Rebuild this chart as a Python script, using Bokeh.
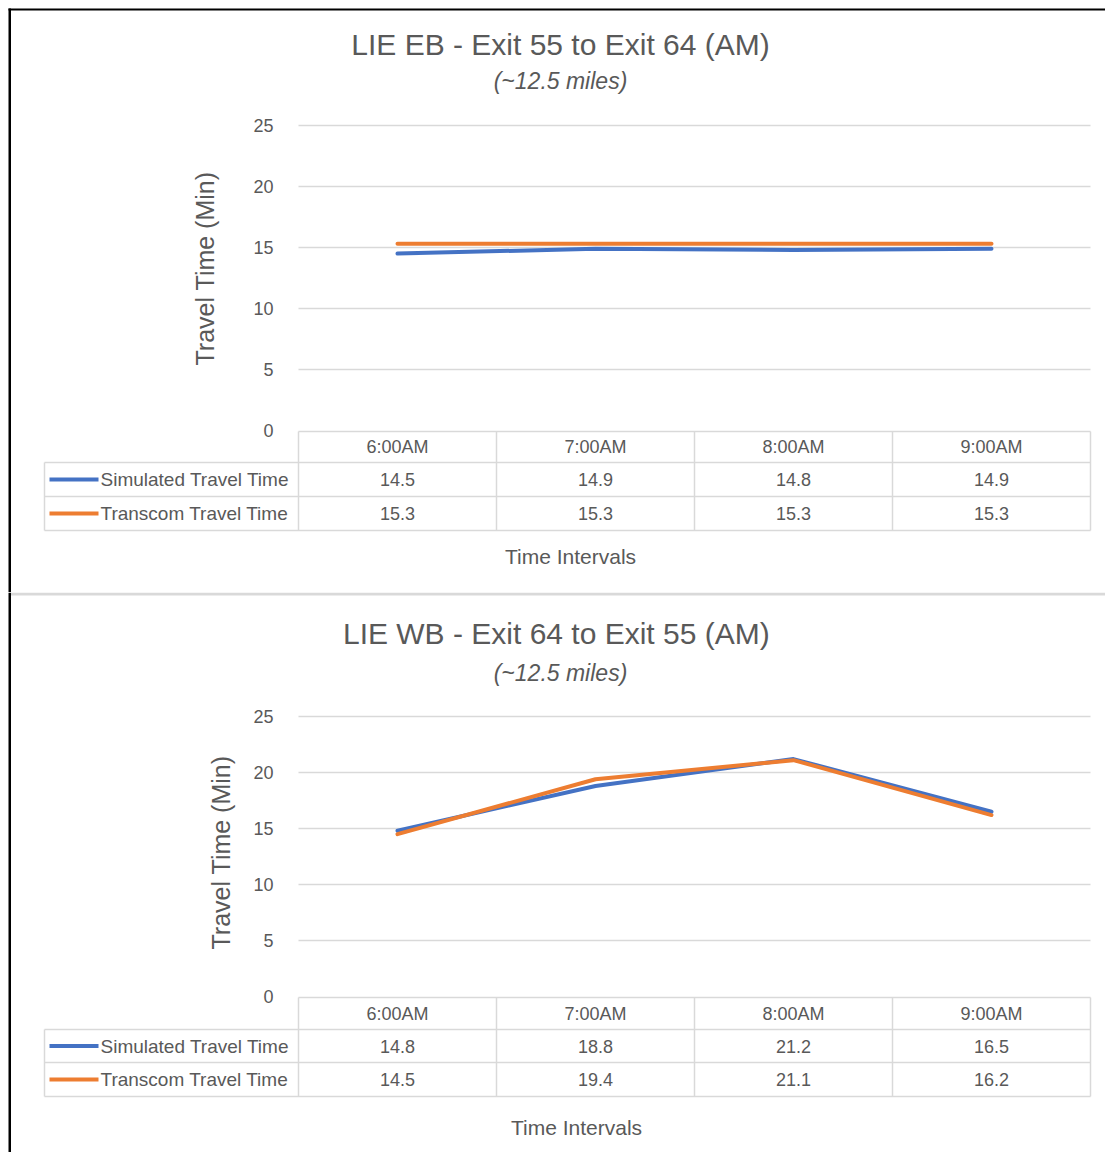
import numpy as np
from bokeh.plotting import figure
from bokeh.models import Range1d, LinearAxis, FixedTicker
from bokeh.layouts import column
from bokeh.embed import file_html
from bokeh.resources import INLINE
from bokeh.core.properties import value

# ---------------- data ----------------
categories = ["6:00AM", "7:00AM", "8:00AM", "9:00AM"]
series_names = ["Simulated Travel Time", "Transcom Travel Time"]
eb_simulated = [14.5, 14.9, 14.8, 14.9]
eb_transcom = [15.3, 15.3, 15.3, 15.3]
wb_simulated = [14.8, 18.8, 21.2, 16.5]
wb_transcom = [14.5, 19.4, 21.1, 16.2]
y_ticks = [0, 5, 10, 15, 20, 25]
eb_title = "LIE EB - Exit 55 to Exit 64 (AM)"
wb_title = "LIE WB - Exit 64 to Exit 55  (AM)"
subtitle = "(~12.5 miles)"
y_label = "Travel Time (Min)"
x_label = "Time Intervals"

# ---------------- style ----------------
FONT = value("Liberation Sans")
TXT = "#595959"
GRID = "#d9d9d9"
COLORS = ["#4472C4", "#ED7D31"]
W = 1105
PLOT_LEFT = 298
UNIT = 198.0
LEG_LEFT = 44


def make_chart(title, sim, trans, H, y0_px, y25_px, rows, title_y, sub_y,
               xlab_x, xlab_y, ylab_x, ylab_y, top_border, separator):
    ppu = (y0_px - y25_px) / 25.0
    x_start = -0.5 - PLOT_LEFT / UNIT
    x_end = x_start + W / UNIT
    y_start = -(H - y0_px) / ppu
    y_end = y0_px / ppu
    p = figure(width=W, height=H, x_range=Range1d(x_start, x_end),
               y_range=Range1d(y_start, y_end), output_backend="svg",
               toolbar_location=None, x_axis_location=None, y_axis_location=None,
               min_border=0, outline_line_color=None, background_fill_color="white",
               border_fill_color="white")
    p.grid.visible = False
    p.extra_x_ranges = {"px": Range1d(0, W)}
    p.extra_y_ranges = {"px": Range1d(H, 0)}

    n = len(categories)
    xs = list(range(n))
    plot_right_px = PLOT_LEFT + n * UNIT

    # y axis (tick labels only)
    ax = LinearAxis(fixed_location=-0.5, ticker=FixedTicker(ticks=y_ticks),
                    axis_line_color=None, major_tick_line_color=None,
                    minor_tick_line_color=None, major_label_standoff=19,
                    major_label_text_font="Liberation Sans",
                    major_label_text_font_size="18px",
                    major_label_text_color=TXT)
    p.add_layout(ax, "left")

    # gridlines
    p.segment(x0=-0.5, x1=n - 0.5, y0=y_ticks[1:], y1=y_ticks[1:],
              line_color=GRID, line_width=1.5)

    # table lines
    header_top, r1, r2, r3 = rows
    p.segment(x0=[PLOT_LEFT, LEG_LEFT, LEG_LEFT, LEG_LEFT], x1=[plot_right_px] * 4,
              y0=[header_top, r1, r2, r3], y1=[header_top, r1, r2, r3],
              line_color=GRID, line_width=1.5,
              x_range_name="px", y_range_name="px")
    bounds = list(np.arange(n + 1) - 0.5)
    p.segment(x0=bounds, x1=bounds, y0=header_top, y1=r3,
              line_color=GRID, line_width=1.5, y_range_name="px")
    p.segment(x0=LEG_LEFT, x1=LEG_LEFT, y0=r1, y1=r3, line_color=GRID,
              line_width=1.5, x_range_name="px", y_range_name="px")

    # data lines
    for vals, c in zip([sim, trans], COLORS):
        p.line(xs, vals, line_color=c, line_width=4, line_cap="round",
               line_join="round")

    # table text
    hy = (header_top + r1) / 2
    p.text(x=xs, y=[hy] * n, text=categories, y_range_name="px",
           text_font=FONT, text_font_size="18px", text_color=TXT,
           text_align="center", text_baseline="middle")
    row_centers = [(r1 + r2) / 2, (r2 + r3) / 2]
    for vals, c, name, ry in zip([sim, trans], COLORS, series_names, row_centers):
        p.text(x=xs, y=[ry] * n, text=[f"{v:.1f}" for v in vals],
               y_range_name="px", text_font=FONT, text_font_size="18px",
               text_color=TXT, text_align="center", text_baseline="middle")
        p.segment(x0=LEG_LEFT + 5, x1=LEG_LEFT + 54, y0=ry, y1=ry, line_color=c,
                  line_width=4, x_range_name="px", y_range_name="px")
        p.text(x=[LEG_LEFT + 56], y=[ry], text=[name], x_range_name="px",
               y_range_name="px", text_font=FONT, text_font_size="19px",
               text_color=TXT, text_align="left", text_baseline="middle")

    # titles
    p.text(x=[560], y=[title_y], text=[title], x_range_name="px",
           y_range_name="px", text_font=FONT, text_font_size="30px",
           text_color=TXT, text_align="center", text_baseline="middle")
    p.text(x=[560], y=[sub_y], text=[subtitle], x_range_name="px",
           y_range_name="px", text_font=FONT, text_font_size="23px",
           text_font_style="italic", text_color=TXT, text_align="center",
           text_baseline="middle")
    p.text(x=[xlab_x], y=[xlab_y], text=[x_label], x_range_name="px",
           y_range_name="px", text_font=FONT, text_font_size="21px",
           text_color=TXT, text_align="center", text_baseline="middle")
    p.text(x=[ylab_x], y=[ylab_y], text=[y_label], x_range_name="px",
           y_range_name="px", text_font=FONT, text_font_size="25px",
           text_color=TXT, text_align="center", text_baseline="middle",
           angle=np.pi / 2)

    # frame decorations
    p.quad(left=8, right=10.5, top=(8 if top_border else 0), bottom=H,
           fill_color="black", line_color=None, x_range_name="px",
           y_range_name="px")
    if top_border:
        p.quad(left=8, right=W, top=8, bottom=10, fill_color="black",
               line_color=None, x_range_name="px", y_range_name="px")
    if separator:
        p.quad(left=10.5, right=W, top=0, bottom=3, fill_color=GRID,
               line_color=None, x_range_name="px", y_range_name="px")
    return p


p1 = make_chart(eb_title, eb_simulated, eb_transcom, H=592, y0_px=430,
                y25_px=125, rows=(431, 462, 496, 530), title_y=44, sub_y=80,
                xlab_x=570, xlab_y=556, ylab_x=204, ylab_y=268,
                top_border=True, separator=False)
p2 = make_chart(wb_title, wb_simulated, wb_transcom, H=560, y0_px=404,
                y25_px=124, rows=(405, 437, 470, 504), title_y=41, sub_y=80,
                xlab_x=576, xlab_y=535, ylab_x=220, ylab_y=260,
                top_border=False, separator=True)

layout = column(p1, p2, spacing=0)
open("out.html", "w").write(file_html(layout, INLINE))
